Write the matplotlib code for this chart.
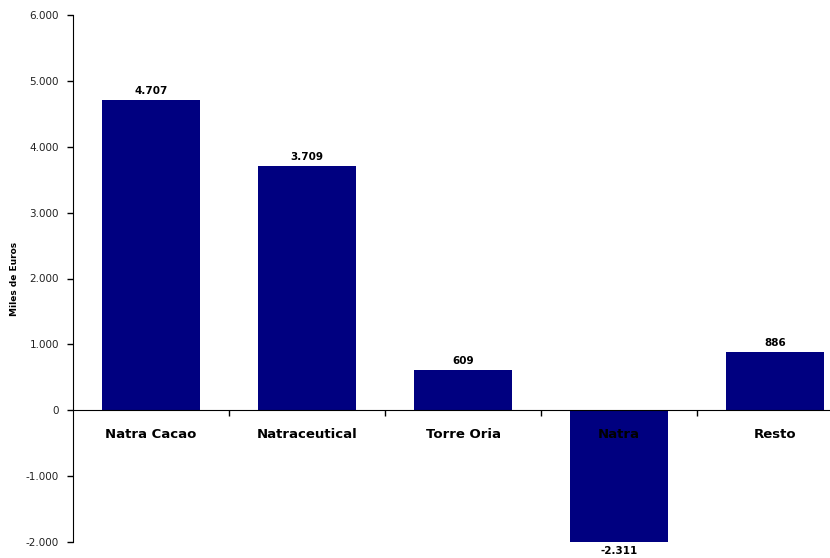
import matplotlib.pyplot as plt
from matplotlib.ticker import FuncFormatter, FixedLocator

categories = ['Natra Cacao', 'Natraceutical', 'Torre Oria', 'Natra', 'Resto']
values = [4707, 3709, 609, -2311, 886]
value_labels = ['4.707', '3.709', '609', '-2.311', '886']

plt.rcParams['font.family'] = ['DejaVu Sans']

fig = plt.figure(figsize=(8.3, 5.58), dpi=100)
# the original is cut off on the right, so the axes run past the figure edge
ax = fig.add_axes([73 / 830, 1 - 542 / 558, 780 / 830, 527 / 558])

x = list(range(len(categories)))
ax.bar(x, values, width=0.63, color='#000080', zorder=2)

ax.set_xlim(-0.5, len(categories) - 0.5)
ax.set_ylim(-2000, 6000)
ax.set_yticks(range(-2000, 6001, 1000))
ax.yaxis.set_major_formatter(FuncFormatter(lambda v, p: f'{int(v):,}'.replace(',', '.')))
ax.tick_params(axis='y', direction='out', length=4, width=1, labelsize=7.5,
               pad=6, labelcolor='#222222')

# x axis sits on the zero line, ticks between categories
ax.spines['top'].set_visible(False)
ax.spines['right'].set_visible(False)
ax.spines['bottom'].set_position(('data', 0))
ax.spines['bottom'].set_zorder(3)
ax.xaxis.set_major_locator(FixedLocator([i + 0.5 for i in x[:-1]]))
ax.set_xticklabels([])
ax.tick_params(axis='x', direction='out', length=4, width=1)

for i, name in enumerate(categories):
    ax.text(i, -370, name, ha='center', va='center', fontsize=9.5,
            fontweight='bold', color='black', zorder=4)

for i, (v, lab) in enumerate(zip(values, value_labels)):
    if v >= 0:
        ax.text(i, v + 60, lab, ha='center', va='bottom', fontsize=7.5,
                fontweight='bold', zorder=4)
    else:
        ax.text(i, -2060, lab, ha='center', va='top', fontsize=7.5,
                fontweight='bold', zorder=4, clip_on=False)

ax.set_ylabel('Miles de Euros', fontsize=6.5, fontweight='bold', labelpad=5)

fig.savefig('out.png', dpi=100)
